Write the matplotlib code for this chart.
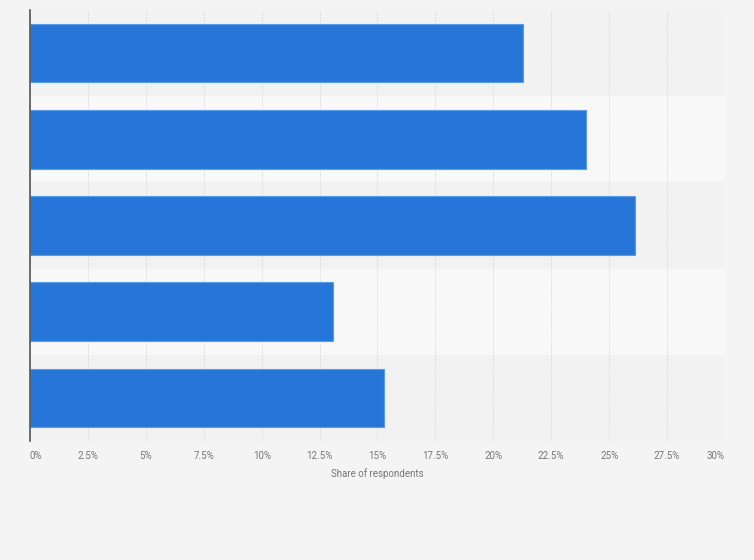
import numpy as np
import matplotlib.pyplot as plt

# data (category labels are not shown in it)
categories = ["A", "B", "C", "D", "E"]
shares     = [21.3, 24.0, 26.1, 13.1, 15.3]
ticks      = [0, 2.5, 5, 7.5, 10, 12.5, 15, 17.5, 20, 22.5, 25, 27.5, 30]
tick_text  = ["0%", "2.5%", "5%", "7.5%", "10%", "12.5%", "15%",
              "17.5%", "20%", "22.5%", "25%", "27.5%", "30%"]

BG      = "#f4f4f4"
BAND_A  = "#f2f2f2"
BAND_B  = "#f8f8f8"
BLUE    = "#2676da"
EDGE    = "#5c9be6"

plt.rcParams["font.family"] = ["Roboto", "DejaVu Sans"]

fig = plt.figure(figsize=(7.54, 5.6), dpi=100, facecolor=BG)
ax = fig.add_axes([30 / 754, 1 - 441 / 560, 695 / 754, 431 / 560])
ax.set_facecolor(BG)

y = np.arange(len(categories))
for i in y:
    ax.axhspan(i - 0.5, i + 0.5, color=BAND_A if i % 2 == 0 else BAND_B,
               zorder=0, linewidth=0)

ax.barh(y, shares, height=0.68, color=BLUE, edgecolor=EDGE, linewidth=0.8, zorder=3)

ax.set_xlim(0, 30)
ax.set_ylim(len(categories) - 0.5, -0.5)

ax.set_xticks(ticks)
ax.set_xticklabels(tick_text, fontsize=7, color="#777777")
lbls = ax.get_xticklabels()
lbls[0].set_ha("left")
lbls[-1].set_ha("right")
ax.tick_params(axis="x", length=0, pad=7.5)
ax.set_yticks([])

ax.grid(axis="x", color="#d9d9d9", linestyle=(0, (1.5, 1.5)), linewidth=0.7, zorder=1)
ax.set_axisbelow(True)

for s in ["top", "right", "bottom"]:
    ax.spines[s].set_visible(False)
ax.spines["left"].set_color("#555555")
ax.spines["left"].set_linewidth(1.2)
ax.spines["left"].set_zorder(4)

ax.set_xlabel("Share of respondents", fontsize=7, color="#777777", labelpad=5)

fig.savefig("out.png", dpi=100, facecolor=BG)
